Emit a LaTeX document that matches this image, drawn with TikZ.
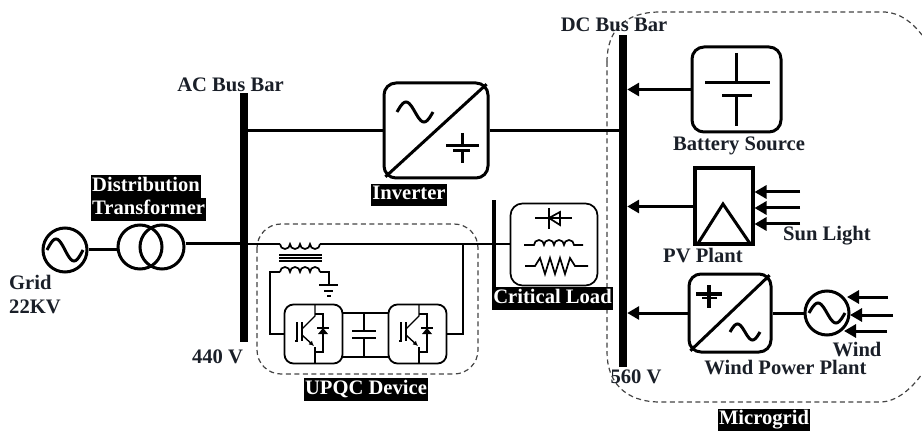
\documentclass[tikz,border=0pt]{standalone}
\usepackage{fontspec}
\setmainfont{Liberation Serif}
\usetikzlibrary{arrows.meta}
\definecolor{ink}{HTML}{1A1F28}
\definecolor{dashc}{HTML}{444444}
\newcommand{\wavesym}[4]{\draw[symb,shift={(#1,#2)}] plot[smooth,domain=-#3:#3,samples=25] ({\x},{#4*sin(180*\x/#3)});}
\tikzset{
  busbar/.style ={fill=black, draw=none, inner sep=0pt, minimum width=#1},
  conv/.style   ={draw=black, line width=3pt, fill=white, rounded corners=12pt, inner sep=0pt},
  src/.style    ={draw=black, line width=3pt, circle, inner sep=0pt, minimum size=44pt},
  symb/.style   ={draw=black, line width=3pt},
  fine/.style   ={draw=black, line width=1.7pt},
  ln/.style     ={draw=black, line width=3pt},
  lnt/.style    ={draw=black, line width=1.7pt},
  lna/.style    ={draw=black, line width=3pt, -{Triangle[length=12pt,width=13pt]}},
  bnd/.style    ={draw=dashc, line width=1.2pt, dash pattern=on 5pt off 3.5pt},
  lbl/.style    ={font=\fontsize{20.6}{22}\selectfont\bfseries, text=ink, inner sep=0pt},
  lblb/.style   ={font=\fontsize{20.6}{22}\selectfont\bfseries, text=white, fill=black, inner sep=1pt, text height=15pt, text depth=5.5pt},
}
\begin{document}
\begin{tikzpicture}[x=1pt,y=-1pt]
    \useasboundingbox (0,0) rectangle (922,433);
    % boundaries
    \draw[bnd] (607,62) .. controls (607,30) and (625,12) .. (660,12) -- (885,12) .. controls (900,13) and (912,22) .. (922,35);
    \draw[bnd] (607,62) -- (607,352) .. controls (607,382) and (625,402) .. (660,402) -- (880,402) .. controls (897,402) and (912,388) .. (922,374);
    \draw[bnd,rounded corners=24pt] (257,224) rectangle (478,374);
    % bus bars
    \node[busbar=8pt,minimum height=249pt] (acbus) at (244,217.5) {};
    \node[busbar=8pt,minimum height=332pt] (dcbus) at (623,201) {};
    \node[busbar=4pt,minimum height=89pt] (clbus) at (494,245) {};
    % sources and boxes
    \node[src] (grid) at (65,250) {};
    \node[src] (tra) at (140,247) {};
    \node[src] (trb) at (162,247) {};
    \node[conv,minimum width=104pt,minimum height=95pt] (inv) at (436,130.5) {};
    \node[conv,minimum width=89pt,minimum height=85pt] (bat) at (736.5,89.5) {};
    \node[conv,rounded corners=0pt,line width=4pt,minimum width=58pt,minimum height=76pt] (pv) at (723.5,206.5) {};
    \node[conv,minimum width=82pt,minimum height=78pt] (wnd) at (730,313) {};
    \node[src] (gen) at (827,313) {};
    \node[conv,line width=1.7pt,minimum width=87pt,minimum height=82pt] (cl) at (554,244.5) {};
    \node[conv,line width=1.8pt,rounded corners=9pt,minimum width=58pt,minimum height=59pt] (vsa) at (313.5,334) {};
    \node[conv,line width=1.8pt,rounded corners=9pt,minimum width=58pt,minimum height=59pt] (vsb) at (417.5,334) {};
    % connectors
    \coordinate (coilin) at (280,244);
    \coordinate (coilout) at (320,244);
    \coordinate (secin) at (280,272);
    \coordinate (secout) at (320,272);
    \coordinate (gnd) at (329,285);
    \draw[ln] (grid.east) -- (tra.west |- grid.east);
    \draw[ln] (trb.east |- coilin) -- (acbus.east |- coilin);
    \draw[lnt] (acbus.east |- coilin) -- (coilin);
    \draw[lnt] (coilout) -- (cl.west |- coilout);
    \draw[ln] (acbus.east |- inv.west) -- (inv.west);
    \draw[ln] (inv.east) -- (dcbus.west |- inv.east);
    \draw[lna] (bat.west) -- (dcbus.east |- bat.west);
    \draw[lna] (pv.west) -- (dcbus.east |- pv.west);
    \draw[lna] (wnd.west) -- (dcbus.east |- wnd.west);
    \draw[ln] (wnd.east) -- (gen.west);
    \draw[lnt] (secin) -- ++(-10,0) |- (vsa.west);
    \draw[lnt] (secout) -- ++(9,0) -- (gnd);
    \draw[lnt] (vsb.east) -| (463,244);
    \draw[lnt] (vsa.east |- 0,313) -- (vsb.west |- 0,313);
    \draw[lnt] (vsa.east |- 0,357) -- (vsb.west |- 0,357);
    \foreach \sy in {192,208,224}
      \draw[lna] (800,\sy) -- (pv.east |- 0,\sy);
    \draw[lna] (888,297) -- (847,297);
    \draw[lna] (893,315) -- (850,315);
    \draw[lna] (887,331) -- (844,331);
    % symbols
    \wavesym{65}{250}{18}{11}
    \wavesym{415}{112}{18}{10}
    \wavesym{745}{332}{15}{8}
    \wavesym{827}{313}{18}{10}
    \draw[symb,shorten <=4pt,shorten >=4pt] (inv.south west) -- (inv.north east);
    \draw[symb,shorten <=4pt,shorten >=4pt] (wnd.south west) -- (wnd.north east);
    \draw[symb] (462,133) -- (462,146) (446,146) -- (479,146) (453,151) -- (470,151) (462,151) -- (462,163);
    \draw[symb,line width=3.4pt] (709,285) -- (709,308) (696,294) -- (722,294);
    \draw[fine] (702,298) -- (717,298);
    \draw[symb] (736,53) -- (736,83) (705,83) -- (770,83) (722,96) -- (752,96) (736,96) -- (736,126);
    \draw[symb] (697,245) -- (723,204) -- (751,245);
    % coupling transformer
    \draw[lnt] (coilin) \foreach \n in {1,...,4} {arc (180:0:5)};
    \draw[lnt] (secin) \foreach \n in {1,...,4} {arc (180:360:5)};
    \foreach \cy in {255,258,261}
      \draw[lnt] (279,\cy) -- (322,\cy);
    \draw[lnt] (319,285) -- (338,285) (324,291) -- (333,291) (327,296) -- (331,296);
    % DC link
    \draw[lnt] (364,313) -- (364,331) (352,331) -- (376,331) (352,338) -- (376,338) (364,338) -- (364,357);
    % switches
    \foreach \dx/\swname in {0/swa,104/swb} {
      \begin{scope}[xshift=\dx pt]
        \draw[fine,line width=1.4pt] (295,341) -- (297,341) -- (297,322);
        \draw[fine,line width=1.4pt] (302,322) -- (302,341);
        \draw[fine,line width=1.4pt] (315,305) -- (315,316) -- (302,329);
        \draw[fine,line width=1.4pt,-{Latex[length=5pt,width=5pt]}] (302,335) -- (314,346);
        \draw[fine,line width=1.4pt] (315,347) -- (315,363);
        \draw[fine,line width=1.4pt] (315,314) -- (323,314) -- (323,352) -- (315,352);
        \fill[black] (318,334) -- (328,334) -- (323,328) -- cycle;
        \draw[fine,line width=1.4pt] (317,328) -- (329,328);
      \end{scope}
    }
    % load
    \draw[fine] (535,218) -- (572,218) (549,208) -- (549,229);
    \draw[fine] (549,218) -- (560,212) -- (560,225) -- cycle;
    \draw[fine] (524,245) -- (534,245) \foreach \n in {1,...,4} {arc (180:360:5)} -- (583,245);
    \draw[fine] (525,266) -- (535,266) -- (540,258) -- (545,274) -- (550,258) -- (555,274) -- (560,258) -- (565,274) -- (570,258) -- (575,266) -- (588,266);
    % labels
    \node[lbl] (aclbl) at (230.5,85) {AC Bus Bar};
    \node[lbl] (dclbl) at (614,25) {DC Bus Bar};
    \node[lbl] (batlbl) at (739,146) {Battery Source};
    \node[lbl] (pvlbl) at (703,256) {PV Plant};
    \node[lbl] (sunlbl) at (827,236) {Sun Light};
    \node[lbl] (wndlbl) at (785.5,368) {Wind Power Plant};
    \node[lbl] (genlbl) at (857,350) {Wind};
    \node[lbl] (dcv) at (636,377) {560 V};
    \node[lbl] (acv) at (217.5,357) {440 V};
    \node[lbl,anchor=west] (gridlbl) at (9,282) {Grid};
    \node[lbl,anchor=west] (gridv) at (9,307) {22KV};
    \node[lblb,anchor=west] (trlbla) at (91,186.5) {Distribution};
    \node[lblb,anchor=west] (trlblb) at (91,209.5) {Transformer};
    \node[lblb] (invlbl) at (409,195) {Inverter};
    \node[lblb] (upqclbl) at (366,389.5) {UPQC Device};
    \node[lblb] (cllbl) at (552.5,298.5) {Critical Load};
    \node[lblb] (mglbl) at (764,420) {Microgrid};
\end{tikzpicture}
\end{document}
